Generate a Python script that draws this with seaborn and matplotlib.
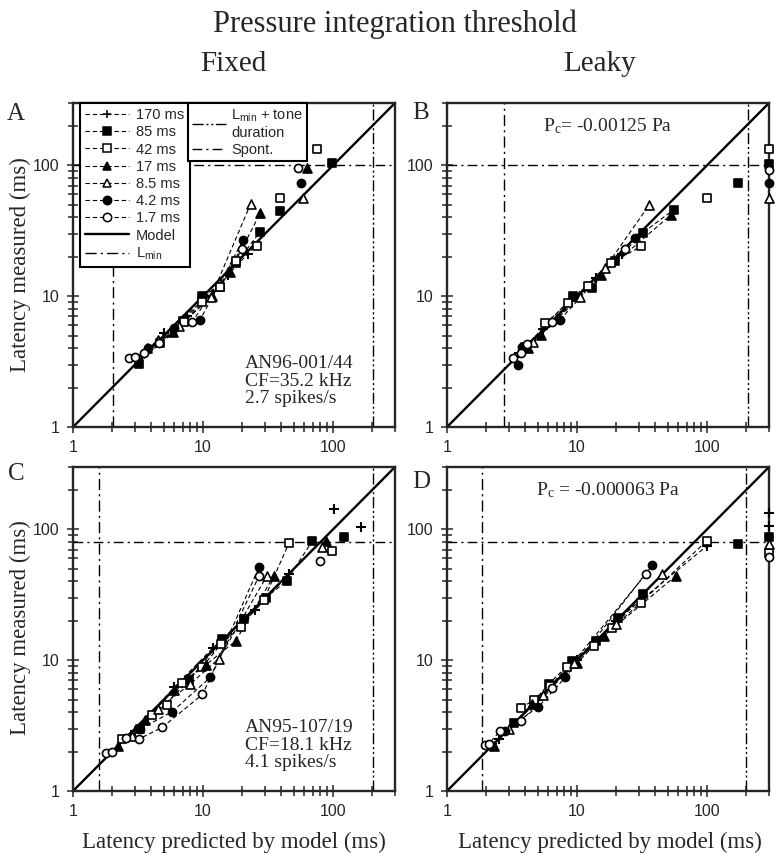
import numpy as np
import pandas as pd
import seaborn as sns
import matplotlib.pyplot as plt
from matplotlib.lines import Line2D
from matplotlib.ticker import LogLocator, NullFormatter

sns.set_style("ticks")
plt.rcParams['font.family'] = ['Liberation Sans', 'DejaVu Sans']
SERIF = ['Liberation Serif', 'DejaVu Serif']

# ---- data (latency predicted, latency measured), ms ----
durations = ["170 ms", "85 ms", "42 ms", "17 ms", "8.5 ms", "4.2 ms", "1.7 ms"]

fixed_a = {
    "170 ms": ([3.4, 5.0, 7.5, 10.5, 15.5, 22], [3.5, 5.2, 7.0, 10.0, 14.5, 21]),
    "85 ms": ([3.2, 7.0, 9.8, 13.5, 18.0, 27.5, 39, 98], [3.05, 6.5, 10.1, 11.8, 18.0, 31, 45, 105]),
    "42 ms": ([4.7, 7.1, 9.8, 13.5, 18.1, 25.9, 39, 75], [4.4, 6.4, 9.0, 11.8, 18.5, 24.3, 56, 134]),
    "17 ms": ([3.7, 5.9, 11.7, 16.1, 27.5, 63], [4.0, 5.3, 10.1, 15.2, 43, 95]),
    "8.5 ms": ([4.5, 6.5, 11.5, 23.3, 59], [4.6, 5.9, 9.8, 51, 56]),
    "4.2 ms": ([3.8, 6.0, 9.5, 20.4, 57], [4.0, 5.7, 6.6, 27, 74]),
    "1.7 ms": ([2.7, 3.0, 3.5, 4.6, 8.2, 19.8, 54], [3.35, 3.4, 3.7, 4.4, 6.3, 23, 95]),
}
leaky_b = {
    "170 ms": ([3.6, 5.5, 9.0, 14, 22], [3.7, 5.6, 9.2, 13.8, 21]),
    "85 ms": ([4.0, 9.3, 13.0, 19.5, 32, 55.7, 174, 300], [4.1, 10.0, 11.6, 18.5, 30.5, 46, 73, 103]),
    "42 ms": ([5.7, 8.6, 12.2, 18.4, 31, 100, 300], [6.2, 8.9, 11.9, 18.0, 24, 56.5, 133]),
    "17 ms": ([4.2, 5.25, 10.3, 15.4, 53], [4.0, 5.06, 9.97, 14.6, 42]),
    "8.5 ms": ([4.6, 10.5, 16.5, 36, 300], [4.5, 9.8, 16.5, 50, 56.5]),
    "4.2 ms": ([3.5, 3.8, 7.4, 27.7, 300], [2.98, 4.1, 6.6, 28, 74]),
    "1.7 ms": ([3.2, 3.7, 4.15, 6.4, 23.5, 300], [3.36, 3.67, 4.33, 6.4, 23, 93]),
}
fixed_c = {
    "170 ms": ([3.0, 6.0, 12, 25, 46, 101, 163], [2.9, 6.2, 12.5, 24, 45.6, 142, 104]),
    "85 ms": ([3.3, 7.8, 14.1, 20.6, 30.4, 44, 69, 121], [2.98, 7.0, 14.5, 20.8, 30, 40.4, 81, 87]),
    "42 ms": ([2.4, 4.07, 5.3, 6.9, 9.9, 13.7, 19.5, 29.4, 46, 98], [2.5, 3.8, 4.55, 6.75, 8.9, 13.2, 18, 29, 79, 68]),
    "17 ms": ([2.2, 3.6, 6.0, 10.5, 17.8, 35, 88], [2.2, 3.5, 5.9, 9.2, 14, 44, 81]),
    "8.5 ms": ([2.86, 4.5, 8.0, 13.3, 31, 83], [2.64, 4.2, 6.6, 10.3, 44, 74]),
    "4.2 ms": ([3.3, 5.8, 11.4, 27], [2.98, 4.04, 7.4, 51.6]),
    "1.7 ms": ([1.78, 2.0, 2.54, 3.2, 4.87, 9.9, 27, 80], [1.95, 2.0, 2.53, 2.49, 3.07, 5.47, 44, 57]),
}
leaky_d = {
    "170 ms": ([2.5, 5, 10, 20, 100, 300, 300], [2.5, 5, 10, 20, 75, 134, 106]),
    "85 ms": ([3.3, 6.1, 9.1, 14, 20.5, 32, 172, 300], [3.3, 6.6, 9.8, 14, 20.9, 31.8, 77, 88]),
    "42 ms": ([3.7, 4.7, 6.2, 8.4, 13.4, 18.7, 31, 99.5, 300], [4.3, 5.0, 6.3, 8.9, 12.8, 17.7, 27.6, 81.6, 66.5]),
    "17 ms": ([2.3, 4.5, 10, 16, 57.4], [2.2, 4.6, 9.5, 15.3, 44]),
    "8.5 ms": ([3.0, 5.5, 9.5, 20, 45, 300], [3.0, 5.4, 9.6, 19, 45.4, 77]),
    "4.2 ms": ([2.8, 5.05, 8.15, 38], [2.9, 4.4, 7.4, 53.4]),
    "1.7 ms": ([1.96, 2.1, 2.55, 3.72, 6.45, 34, 300], [2.26, 2.3, 2.86, 3.42, 6.15, 45.7, 61]),
}

panel_data = [fixed_a, leaky_b, fixed_c, leaky_d]
panel_letters = ["A", "B", "C", "D"]
lmin = [2.03, 2.75, 1.58, 1.85]
lmin_tone = [202, 205, 202, 200]
spont = [100, 100, 80, 80]
connect_below = [30, 60, 75, 110]   # points further out are plotted unconnected
model_x = [1, 300]
unit_text = {0: "AN96-001/44\nCF=35.2 kHz\n2.7 spikes/s", 2: "AN95-107/19\nCF=18.1 kHz\n4.1 spikes/s"}
pc_text = {1: r"$\mathregular{P_c}$= -0.00125 Pa", 3: r"$\mathregular{P_c}$ = -0.000063 Pa"}

# marker style per tone duration: (marker, face)
mstyle = {
    "170 ms": ("+", "k"), "85 ms": ("s", "k"), "42 ms": ("s", "w"),
    "17 ms": ("^", "k"), "8.5 ms": ("^", "w"), "4.2 ms": ("o", "k"), "1.7 ms": ("o", "w"),
}

LS_LMIN = (0, (8, 3, 1.5, 3))
LS_TONE = (0, (8, 2, 1.5, 2, 1.5, 2))
LS_SPONT = (0, (7, 3, 1.5, 3))
LS_SER = (0, (4, 2.5))

fig = plt.figure(figsize=(7.84, 8.64), dpi=100)
W, H = 784, 864
boxes = [(73, 103), (447, 103), (73, 467), (447, 467)]
AW, AH = 322, 324

axes = []
for i, (px, py) in enumerate(boxes):
    ax = fig.add_axes([px / W, 1 - (py + AH) / H, AW / W, AH / H])
    ax.set_xscale("log")
    ax.set_yscale("log")
    ax.set_xlim(1, 300)
    ax.set_ylim(1, 300)
    data = panel_data[i]

    # reference lines
    ax.axvline(lmin[i], color="k", lw=1.0, ls=LS_LMIN, zorder=1)
    ax.axvline(lmin_tone[i], color="k", lw=1.0, ls=LS_TONE, zorder=1)
    ax.axhline(spont[i], color="k", lw=1.0, ls=LS_SPONT, zorder=1)
    sns.lineplot(x=model_x, y=model_x, ax=ax, color="k", lw=1.7, zorder=2)

    for name in durations:
        xs, ys = data[name]
        df = pd.DataFrame({"x": xs, "y": ys})
        near = df[df["x"] < connect_below[i]]
        if len(near) > 1:
            sns.lineplot(data=near, x="x", y="y", ax=ax, sort=False, estimator=None,
                         color="k", lw=0.8, linestyle=LS_SER, zorder=3)
        m, fc = mstyle[name]
        if m == "+":
            sns.scatterplot(data=df, x="x", y="y", ax=ax, marker="+", s=45, color="k",
                            linewidth=1.5, zorder=4, clip_on=False, legend=False)
        else:
            sz = 42 if m == "^" else 34
            sns.scatterplot(data=df, x="x", y="y", ax=ax, marker=m, s=sz, color=fc,
                            edgecolor="k", linewidth=1.2, zorder=4, clip_on=False, legend=False)

    ax.set_xlabel("")
    ax.set_ylabel("")
    ax.set_xticks([1, 10, 100], labels=["1", "10", "100"])
    ax.set_yticks([1, 10, 100], labels=["1", "10", "100"])
    ax.xaxis.set_minor_locator(LogLocator(base=10, subs=np.arange(2, 10)))
    ax.yaxis.set_minor_locator(LogLocator(base=10, subs=np.arange(2, 10)))
    ax.xaxis.set_minor_formatter(NullFormatter())
    ax.yaxis.set_minor_formatter(NullFormatter())
    ax.set_xlim(1, 300)
    ax.set_ylim(1, 300)
    ax.tick_params(which="both", direction="inout", top=False, right=False,
                   width=1.1, labelsize=11.5, pad=5)
    ax.tick_params(which="major", length=9)
    ax.tick_params(which="minor", length=7)
    for sp in ax.spines.values():
        sp.set_linewidth(1.7)
        sp.set_visible(True)

    if i in unit_text:
        ax.text(0.534, 0.222, unit_text[i], transform=ax.transAxes, ha="left", va="top",
                family=SERIF, fontsize=14, linespacing=1.05)
    if i in pc_text:
        ax.text(0.5, 0.93, pc_text[i], transform=ax.transAxes, ha="center", va="center",
                family=SERIF, fontsize=14)
    axes.append(ax)

# panel letters
letter_pos = [(16, 114), (421, 113), (16, 474), (421, 482)]
for (lx, ly), letter in zip(letter_pos, panel_letters):
    fig.text(lx / W, 1 - ly / H, letter, ha="center", va="center", family=SERIF, fontsize=18)

# legends in panel A
ax = axes[0]
handles = []
for name in durations:
    m, fc = mstyle[name]
    handles.append(Line2D([], [], color="k", lw=0.8, ls=LS_SER, marker=m, markersize=6,
                          markerfacecolor=fc, markeredgecolor="k", markeredgewidth=1.1))
handles.append(Line2D([], [], color="k", lw=1.7))
handles.append(Line2D([], [], color="k", lw=1.0, ls=LS_LMIN))
labels = durations + ["Model", r"$\mathregular{L_{min}}$"]
leg1 = ax.legend(handles, labels, loc="upper left", bbox_to_anchor=(0.022, 1.0),
                 borderaxespad=0, fontsize=10.5, labelspacing=0.22, handlelength=3.0,
                 handletextpad=0.5, borderpad=0.35, fancybox=False, framealpha=1,
                 edgecolor="k")
leg1.get_frame().set_linewidth(1.5)
ax.add_artist(leg1)

h2 = [Line2D([], [], color="k", lw=1.0, ls=LS_TONE), Line2D([], [], color="k", lw=1.0, ls=LS_SPONT)]
l2 = [r"$\mathregular{L_{min}}$ + tone" + "\nduration", "Spont."]
leg2 = ax.legend(h2, l2, loc="upper left", bbox_to_anchor=(0.357, 1.0), borderaxespad=0,
                 fontsize=10.5, labelspacing=0.2, handlelength=2.3, handletextpad=0.35,
                 borderpad=0.3, fancybox=False, framealpha=1, edgecolor="k")
leg2.get_frame().set_linewidth(1.5)

# titles and axis labels
fig.text(395 / W, 1 - 24 / H, "Pressure integration threshold", ha="center", va="center",
         family=SERIF, fontsize=22)
fig.text(233 / W, 1 - 64 / H, "Fixed", ha="center", va="center", family=SERIF, fontsize=21)
fig.text(600 / W, 1 - 64 / H, "Leaky", ha="center", va="center", family=SERIF, fontsize=21)
for cy in (265, 628):
    fig.text(20 / W, 1 - cy / H, "Latency measured (ms)", rotation=90, ha="center",
             va="center", family=SERIF, fontsize=16.5)
for cx in (234, 610):
    fig.text(cx / W, 1 - 842 / H, "Latency predicted by model (ms)", ha="center",
             va="center", family=SERIF, fontsize=16.5)

fig.savefig("out.png", dpi=100)
